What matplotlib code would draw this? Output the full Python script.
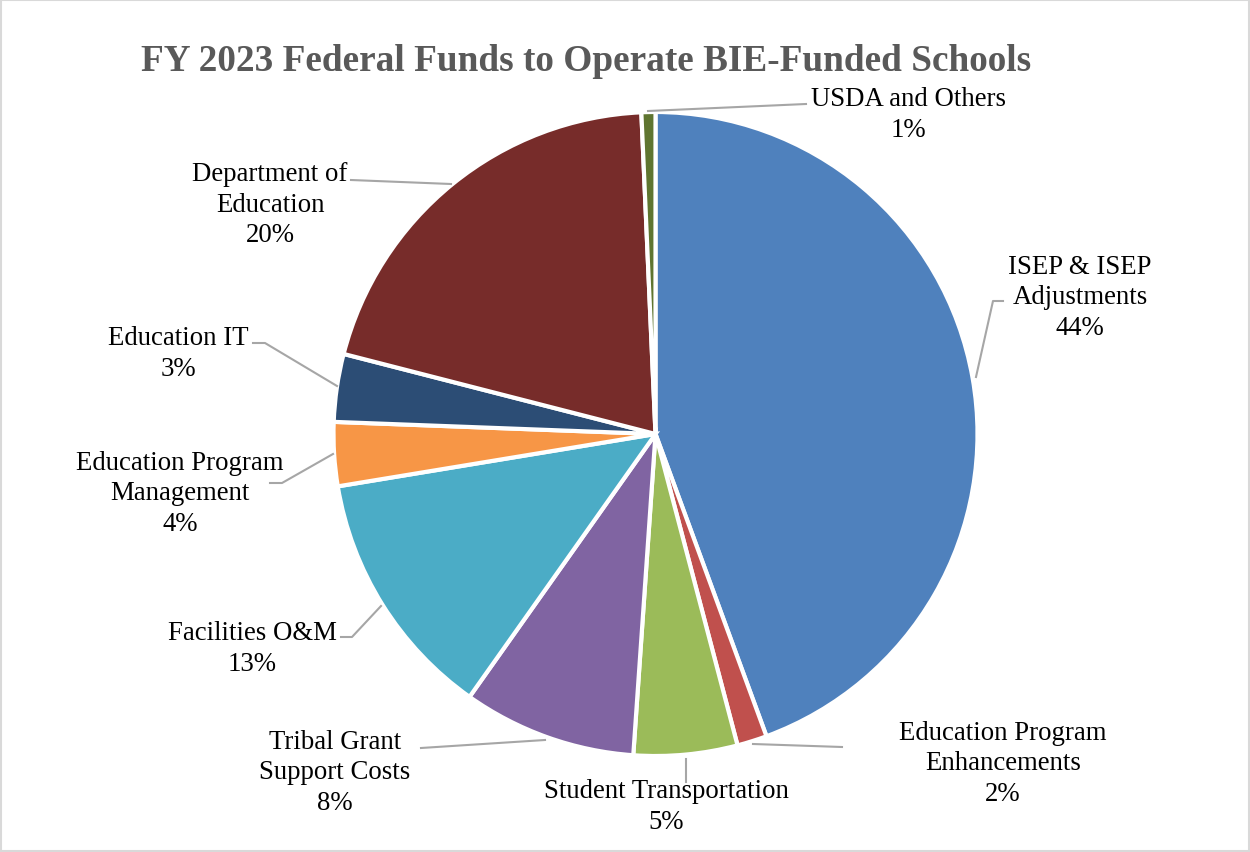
import matplotlib.pyplot as plt
from matplotlib.patches import Rectangle

# slice shares, clockwise from 12 o'clock
names = ["ISEP & ISEP\nAdjustments", "Education Program\nEnhancements",
         "Student Transportation", "Tribal Grant\nSupport Costs",
         "Facilities O&M", "Education Program\nManagement", "Education IT",
         "Department of\nEducation", "USDA and Others"]
shares = [44.4, 1.5, 5.2, 8.7, 12.6, 3.2, 3.4, 20.3, 0.7]
pct_text = ["44%", "2%", "5%", "8%", "13%", "4%", "3%", "20%", "1%"]
colors = ["#4F81BD", "#C0504D", "#9BBB59", "#8064A2", "#4BACC6",
          "#F79646", "#2C4D75", "#772C2A", "#5F7530"]

# label anchor (pixel, from top) and leader line points
label_pos = [(1080, 298), (1003, 764), (666, 807), (335, 773), (252, 649),
             (180, 494), (178, 354), (270, 205), (908, 115)]
leaders = [
    [(976, 378), (993, 302), (1003, 302)],
    [(753, 745), (842, 748)],
    [(686, 760), (686, 783)],
    [(421, 749), (545, 741)],
    [(341, 638), (352, 638), (381, 607)],
    [(270, 484), (282, 484), (333, 455)],
    [(253, 344), (265, 344), (337, 387)],
    [(351, 181), (451, 185)],
    [(648, 112), (806, 105)],
]

W, H = 1250, 853
fig = plt.figure(figsize=(12.5, 8.53), dpi=100)
ax = fig.add_axes([0, 0, 1, 1])

ax.add_patch(Rectangle((1, 1), W - 2, H - 2, fill=False, edgecolor="#D9D9D9", lw=1.5))

ax.pie(shares, colors=colors, startangle=90, counterclock=False,
       center=(655.5, H - 435), radius=322, frame=True,
       wedgeprops=dict(edgecolor="white", linewidth=3))
ax.set_xlim(0, W)
ax.set_ylim(0, H)
ax.axis("off")

serif = ["Liberation Serif", "DejaVu Serif"]
ax.text(586, H - 61, "FY 2023 Federal Funds to Operate BIE-Funded Schools",
        ha="center", va="center", fontsize=26.8, fontweight="bold",
        color="#595959", family=serif)

for name, pct, (x, y), pts in zip(names, pct_text, label_pos, leaders):
    ax.text(x, H - y, name + "\n" + pct, ha="center", va="center",
            fontsize=19.3, color="#000000", family=serif, linespacing=1.3)
    xs = [p[0] for p in pts]
    ys = [H - p[1] for p in pts]
    ax.plot(xs, ys, color="#A6A6A6", lw=1.5)

fig.savefig("out.png", dpi=100)
